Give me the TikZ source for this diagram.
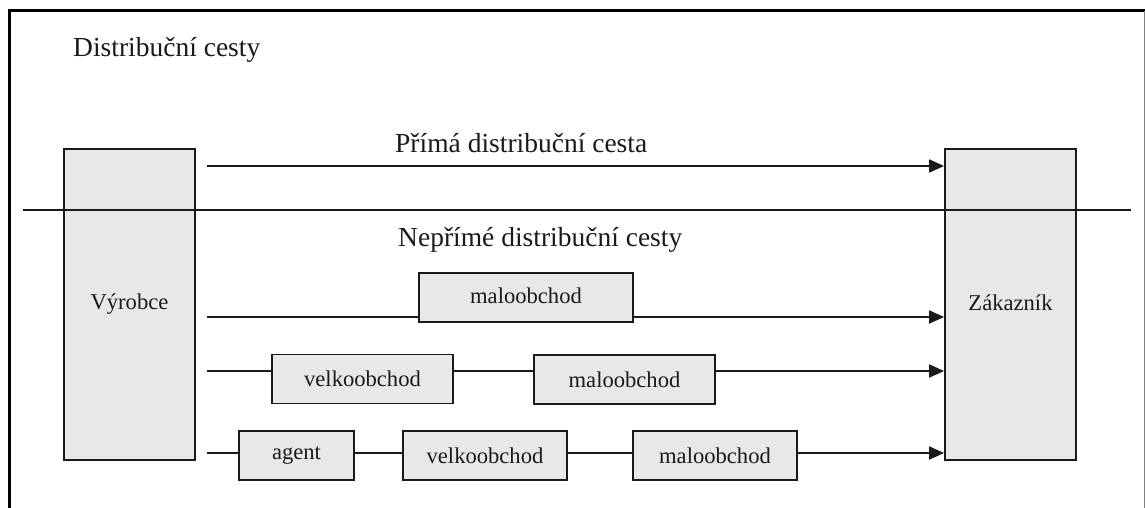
\documentclass[tikz,border=0pt]{standalone}
\usepackage{fontspec}
\setmainfont{Liberation Serif}
\usetikzlibrary{arrows.meta}
\definecolor{boxfill}{HTML}{E8E8E8}
\definecolor{ink}{HTML}{1A1A1A}
\begin{document}
\begin{tikzpicture}[x=1pt,y=-1pt,
  bigtext/.style={font=\fontsize{27.5}{33}\selectfont, text=ink, inner sep=0pt},
  endbox/.style={draw=ink, line width=1.8pt, fill=boxfill, minimum width=131pt, minimum height=311pt, inner sep=0pt, font=\fontsize{22.6}{27}\selectfont, text=ink},
  midbox/.style={draw=ink, line width=1.8pt, fill=boxfill, minimum height=49pt, inner sep=0pt, font=\fontsize{22.6}{27}\selectfont, text=ink},
  link/.style={draw=ink, line width=1.8pt},
  arrowlink/.style={link, -{Triangle[length=15pt,width=13pt]}, shorten >=0pt}
]
\useasboundingbox (0,0) rectangle (1145,508);
% frame
\draw[line width=3pt, black] (8,11) -- (1145,11);
\draw[line width=3pt, black] (9.5,10) -- (9.5,508);
\draw[line width=1pt, gray] (1144,11) -- (1144,508);

% titles
\node[bigtext, anchor=base west] (title) at (73,57) {Distribuční cesty};
\node[bigtext, anchor=base west] (prima) at (395,152) {Přímá distribuční cesta};
\node[bigtext, anchor=base west] (neprima) at (398,246) {Nepřímé distribuční cesty};

% end boxes
\node[endbox] (vyr) at (129.5,304.5) {\raisebox{4pt}{Výrobce}};
\node[endbox] (zak) at (1010.5,304.5) {\raisebox{4pt}{Zákazník}};

% start coordinates
\coordinate (s0) at (207,166);
\coordinate (s1) at (207,317);
\coordinate (s2) at (207,371);
\coordinate (s3) at (207,453);

% row 0: direct
\draw[arrowlink] (s0) -- (s0 -| zak.west);

% row 1
\node[midbox, minimum width=214pt] (m1) at (526,297.5) {\raisebox{4pt}{maloobchod}};
\draw[link] (s1) -- (s1 -| m1.west);
\draw[arrowlink] (m1.east |- s1) -- (s1 -| zak.west);

% row 2
\node[midbox, minimum width=181pt] (v2) at (362.5,379) {velkoobchod};
\node[midbox, minimum width=181pt] (m2) at (624.5,379.5) {maloobchod};
\draw[link] (s2) -- (s2 -| v2.west);
\draw[link] (v2.east |- s2) -- (s2 -| m2.west);
\draw[arrowlink] (m2.east |- s2) -- (s2 -| zak.west);

% row 3
\node[midbox, minimum width=115pt] (a3) at (296.5,455.5) {agent};
\node[midbox, minimum width=164pt] (v3) at (485,455.5) {velkoobchod};
\node[midbox, minimum width=164pt] (m3) at (715,455.5) {maloobchod};
\draw[link] (s3) -- (s3 -| a3.west);
\draw[link] (a3.east |- s3) -- (s3 -| v3.west);
\draw[link] (v3.east |- s3) -- (s3 -| m3.west);
\draw[arrowlink] (m3.east |- s3) -- (s3 -| zak.west);

% divider
\coordinate (d0) at (23,210);
\coordinate (d1) at (1131,210);
\draw[link] (d0) -- (d1);
\end{tikzpicture}
\end{document}
